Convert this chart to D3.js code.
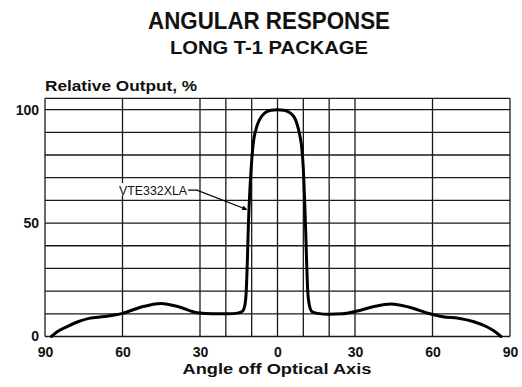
<!DOCTYPE html>
<html>
<head>
<meta charset="utf-8">
<script src="https://cdn.jsdelivr.net/npm/d3@7"></script>
<style>
  html, body { margin: 0; padding: 0; background: #fff; }
  svg { display: block; }
  text { fill: #111; font-family: "Liberation Sans", Arial, Helvetica, sans-serif; }
</style>
</head>
<body>
<svg id="chart" width="522" height="387"></svg>
<script>
// Angular response of the VTE332XLA in the long T-1 package
const angles = [-87.5, -85, -81, -77, -73, -67, -60, -53, -45, -38, -31, -25, -19, -15.5, -13.5,
  -12.6, -12.1, -11.7, -11.3, -10.8, -10.2, -9.4, -8.4, -7, -5, -2.5, 0,
  2.5, 5, 7, 8.4, 9.4, 10, 10.5, 10.9, 11.3, 11.7, 12.3, 13.3, 15.5,
  20, 25, 30, 37, 44, 51, 59, 64, 70, 76, 81, 84, 86.5];
const relOutput = [0, 2.3, 4.6, 6.6, 8, 8.8, 10.2, 12.9, 14.6, 13, 10.5, 10, 10, 10.3, 11.2,
  14, 20, 32, 48, 62, 74, 85, 91, 95.5, 98.5, 99.7, 100,
  99.7, 98.5, 95.5, 90, 83, 74, 60, 47, 32, 20, 14, 11, 10.2,
  9.8, 10, 11, 13.1, 14.3, 12.9, 10, 8.7, 8, 6.5, 4.3, 2.3, 0];

const xTicks = [-90, -60, -30, 0, 30, 60, 90];
const yTicks = [0, 50, 100];
const xGrid = [-90, -60, -30, -20, -10, 0, 10, 20, 30, 60, 90];
const yGrid = [0, 10, 20, 30, 40, 50, 60, 70, 80, 90, 100, 105];

const seriesName = "VTE332XLA";
const labelAt = [-35, 64.5];      // end of the label text (angle, %)
const leader = [[-34.6, 64.5], [-31.2, 64.5], [-11.9, 56]];

const svg = d3.select("#chart");
const x = d3.scaleLinear().domain([-90, 90]).range([45, 510]);
const y = d3.scaleLinear().domain([0, 105]).range([336.5, 98.3]);

// Titles
svg.append("text").attr("x", 269).attr("y", 28.5).attr("text-anchor", "middle")
  .attr("font-weight", "bold").attr("font-size", 23)
  .attr("textLength", 242).attr("lengthAdjust", "spacingAndGlyphs")
  .text("ANGULAR RESPONSE");
svg.append("text").attr("x", 269).attr("y", 53.5).attr("text-anchor", "middle")
  .attr("font-weight", "bold").attr("font-size", 18)
  .attr("textLength", 198).attr("lengthAdjust", "spacingAndGlyphs")
  .text("LONG T-1 PACKAGE");

// Grid
const grid = svg.append("g").attr("stroke", "#1a1a1a").attr("stroke-width", 1.3);
grid.selectAll("line.v").data(xGrid).join("line").attr("class", "v")
  .attr("x1", d => x(d)).attr("x2", d => x(d))
  .attr("y1", y(0)).attr("y2", y(105));
grid.selectAll("line.h").data(yGrid).join("line").attr("class", "h")
  .attr("x1", x(-90)).attr("x2", x(90))
  .attr("y1", d => y(d)).attr("y2", d => y(d));

// Axes (labels only)
const xAxis = svg.append("g").attr("transform", `translate(0,${y(0)})`)
  .call(d3.axisBottom(x).tickValues(xTicks).tickSize(0).tickPadding(10.5)
    .tickFormat(d => Math.abs(d)));
const yAxis = svg.append("g").attr("transform", `translate(${x(-90)},0)`)
  .call(d3.axisLeft(y).tickValues(yTicks).tickSize(0).tickPadding(6));
[xAxis, yAxis].forEach(g => {
  g.select(".domain").remove();
  g.selectAll("text").attr("font-family", "'Liberation Sans', Arial, sans-serif")
    .attr("font-weight", "bold").attr("font-size", 14).attr("fill", "#111");
});

svg.append("text").attr("x", 45).attr("y", 91)
  .attr("font-weight", "bold").attr("font-size", 14)
  .attr("textLength", 152).attr("lengthAdjust", "spacingAndGlyphs")
  .text("Relative Output, %");
svg.append("text").attr("x", 277).attr("y", 374).attr("text-anchor", "middle")
  .attr("font-weight", "bold").attr("font-size", 14)
  .attr("textLength", 189).attr("lengthAdjust", "spacingAndGlyphs")
  .text("Angle off Optical Axis");

// Response curve
const pts = angles.map((a, i) => [a, relOutput[i]]);
svg.append("path").datum(pts)
  .attr("fill", "none").attr("stroke", "#000").attr("stroke-width", 3)
  .attr("stroke-linejoin", "round").attr("stroke-linecap", "round")
  .attr("d", d3.line().x(d => x(d[0])).y(d => y(d[1])).curve(d3.curveMonotoneX));

// Series label with leader arrow
svg.append("defs").append("marker").attr("id", "arrow")
  .attr("viewBox", "0 0 10 10").attr("refX", 9).attr("refY", 5)
  .attr("markerWidth", 7).attr("markerHeight", 5).attr("orient", "auto")
  .attr("markerUnits", "userSpaceOnUse")
  .append("path").attr("d", "M0,0 L10,5 L0,10 Z").attr("fill", "#000");
svg.append("rect")
  .attr("x", x(labelAt[0]) - 70).attr("y", y(labelAt[1]) - 7)
  .attr("width", x(leader[1][0]) - x(labelAt[0]) + 70).attr("height", 12).attr("fill", "#fff");
svg.append("text").attr("x", x(labelAt[0])).attr("y", y(labelAt[1]) + 4.5)
  .attr("text-anchor", "end").attr("font-size", 12)
  .attr("textLength", 68).attr("lengthAdjust", "spacingAndGlyphs")
  .text(seriesName);
svg.append("path").datum(leader)
  .attr("fill", "none").attr("stroke", "#000").attr("stroke-width", 1.2)
  .attr("marker-end", "url(#arrow)")
  .attr("d", d3.line().x(d => x(d[0])).y(d => y(d[1])));
</script>
</body>
</html>
